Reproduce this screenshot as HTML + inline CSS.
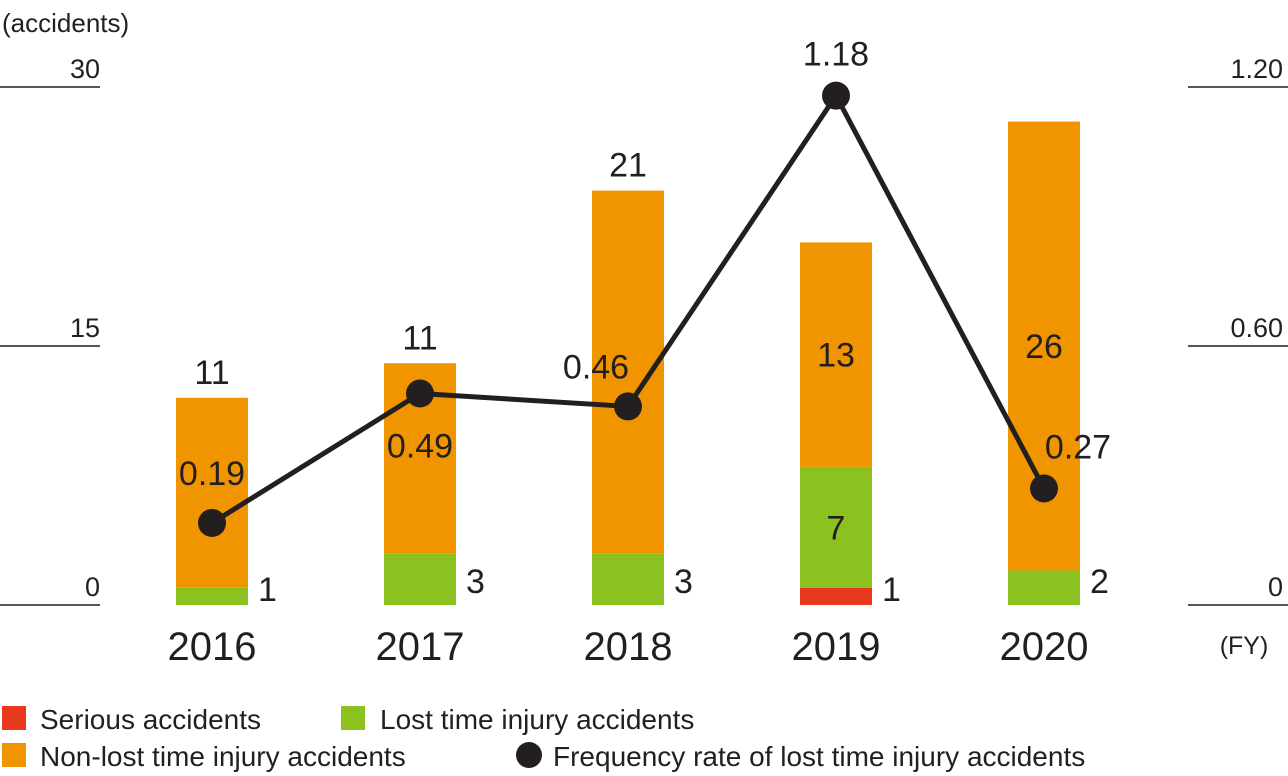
<!DOCTYPE html>
<html><head><meta charset="utf-8"><style>
html,body{margin:0;padding:0;background:#fff;}
svg{display:block;font-family:"Liberation Sans",sans-serif;}
</style></head><body>
<svg id="chart" width="1288" height="776" viewBox="0 0 1288 776"></svg>
<script>
const years=["2016","2017","2018","2019","2020"];
const serious=[0,0,0,1,0];
const lostTime=[1,3,3,7,2];
const nonLost=[11,11,21,13,26];
const freq=[0.19,0.49,0.46,1.18,0.27];
const leftTicks=["0","15","30"];
const rightTicks=["0","0.60","1.20"];
const leftTickVals=[0,15,30];

const NS="http://www.w3.org/2000/svg";
const svg=document.getElementById('chart');
const Y0=605,Y1=87;
const yL=v=>Y0-(v/30)*(Y0-Y1);
const yR=v=>Y0-(v/1.2)*(Y0-Y1);
const xC=i=>212+i*208;
const BW=72;
function el(tag,attrs,txt){const e=document.createElementNS(NS,tag);for(const k in attrs)e.setAttribute(k,attrs[k]);if(txt!==undefined)e.textContent=txt;svg.appendChild(e);return e;}

el('text',{x:2,y:32,'font-size':26,fill:'#231f20',},'(accidents)');
leftTickVals.forEach((v,i)=>{
  const y=yL(v);
  const l=el('line',{x1:0,x2:100,y1:y,y2:y,stroke:'#231f20','stroke-width':1.5});
  
  
  const t=el('text',{x:100,y:y-9,'text-anchor':'end','font-size':27,fill:'#231f20'},leftTicks[i]);
  
  
  const l2=el('line',{x1:1188,x2:1288,y1:y,y2:y,stroke:'#231f20','stroke-width':1.5});
  
  
  const t2=el('text',{x:1283,y:y-9,'text-anchor':'end','font-size':27,fill:'#231f20'},rightTicks[i]);
  
  
});
el('text',{x:1244,y:654,'text-anchor':'middle','font-size':25,fill:'#231f20',},'(FY)');

years.forEach((yr,i)=>{
  const x=xC(i)-BW/2;
  let base=0;
  const segs=[[serious[i],'#e8381e','serious'],[lostTime[i],'#8cc21f','lost-time'],[nonLost[i],'#f09400','non-lost-time']];
  segs.forEach(s=>{
    if(s[0]>0){
      const r=el('rect',{x:x,y:yL(base+s[0]),width:BW,height:yL(base)-yL(base+s[0]),fill:s[1]});
      
      
    }
    base+=s[0];
  });
  const yt=el('text',{x:xC(i),y:660,'text-anchor':'middle','font-size':40,fill:'#231f20'},yr);
  
  
  // value labels
  const top=yL(serious[i]+lostTime[i]+nonLost[i]);
  const gTop=yL(serious[i]+lostTime[i]);
  let t;
  if(i<3){t=el('text',{x:xC(i),y:top-14,'text-anchor':'middle','font-size':34,fill:'#231f20'},nonLost[i]);}
  else{t=el('text',{x:xC(i),y:(top+gTop)/2+12,'text-anchor':'middle','font-size':34,fill:'#231f20'},nonLost[i]);}
  
  
  let g;
  if(i===3){g=el('text',{x:xC(i),y:(gTop+yL(serious[i]))/2+12,'text-anchor':'middle','font-size':34,fill:'#231f20'},lostTime[i]);
    const s=el('text',{x:xC(i)+BW/2+10,y:Y0-4,'font-size':34,fill:'#231f20'},serious[i]);
    
    }
  else{g=el('text',{x:xC(i)+BW/2+10,y:Y0-4+(lostTime[i]>1?-8:0),'font-size':34,fill:'#231f20'},lostTime[i]);}
  
  
});

const pts=freq.map((v,i)=>xC(i)+','+yR(v)).join(' ');
el('polyline',{points:pts,fill:'none',stroke:'#231f20','stroke-width':5,'stroke-linejoin':'round',});
const off=[[0,-38],[0,64],[-32,-28],[0,-30],[34,-30]];
const anc=['middle','middle','middle','middle','middle'];
freq.forEach((v,i)=>{
  const c=el('circle',{cx:xC(i),cy:yR(v),r:14,fill:'#231f20'});
  
  
  const t=el('text',{x:xC(i)+off[i][0],y:yR(v)+off[i][1],'text-anchor':anc[i],'font-size':34,fill:'#231f20'},v.toFixed(2));
  
  
});

// legend
el('rect',{x:2,y:706,width:24,height:24,fill:'#e8381e',});
el('text',{x:40,y:729,'font-size':28,fill:'#231f20',},'Serious accidents');
el('rect',{x:341,y:706,width:24,height:24,fill:'#8cc21f',});
el('text',{x:380,y:729,'font-size':28,fill:'#231f20',},'Lost time injury accidents');
el('rect',{x:2,y:743,width:24,height:24,fill:'#f09400',});
el('text',{x:40,y:766,'font-size':28,fill:'#231f20',},'Non-lost time injury accidents');
el('circle',{cx:529,cy:755,r:13,fill:'#231f20',});
el('text',{x:553,y:766,'font-size':28,fill:'#231f20',},'Frequency rate of lost time injury accidents');
</script>
</body></html>
